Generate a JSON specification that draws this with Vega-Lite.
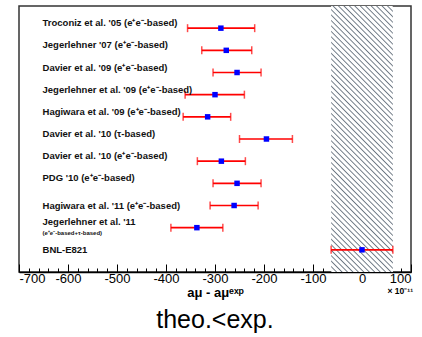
{
  "$schema": "https://vega.github.io/schema/vega-lite/v6.json",
  "width": 392,
  "height": 266,
  "autosize": {"type": "none"},
  "padding": {"left": 19, "top": 6, "right": 11, "bottom": 65},
  "background": "white",
  "config": {"view": {"stroke": "#333333", "strokeWidth": 1.5}},
  "title": {"text": "theo.<exp.", "orient": "bottom", "fontSize": 25, "fontWeight": "normal", "font": "Liberation Sans", "color": "black", "offset": 9, "anchor": "middle"},
  "data": {"values": [
    {"name": "Troconiz et al. '05 (e⁺e⁻-based)", "row": 1, "val": -288, "lo": -356, "hi": -219},
    {"name": "Jegerlehner  '07 (e⁺e⁻-based)", "row": 2, "val": -277, "lo": -327, "hi": -225},
    {"name": "Davier et al. '09 (e⁺e⁻-based)", "row": 3, "val": -255, "lo": -304, "hi": -206},
    {"name": "Jegerlehner et al. '09 (e⁺e⁻-based)", "row": 4, "val": -300, "lo": -361, "hi": -240},
    {"name": "Hagiwara et al. '09 (e⁺e⁻-based)", "row": 5, "val": -315, "lo": -365, "hi": -268},
    {"name": "Davier et al. '10 (τ-based)", "row": 6, "val": -195, "lo": -250, "hi": -142},
    {"name": "Davier et al. '10 (e⁺e⁻-based)", "row": 7, "val": -287, "lo": -336, "hi": -238},
    {"name": "PDG '10 (e⁺e⁻-based)", "row": 8, "val": -255, "lo": -304, "hi": -206},
    {"name": "Hagiwara et al. '11 (e⁺e⁻-based)", "row": 9, "val": -261, "lo": -310, "hi": -212},
    {"name": "Jegerlehner et al. '11", "sub": "(e⁺e⁻-based+τ-based)", "row": 10, "val": -337, "lo": -390, "hi": -284},
    {"name": "BNL-E821", "row": 11, "val": 0, "lo": -63, "hi": 63}
  ]},
  "encoding": {
    "x": {"type": "quantitative", "scale": {"domain": [-700, 100], "nice": false, "zero": false},
      "axis": {
        "values": [-700,-680,-660,-640,-620,-600,-580,-560,-540,-520,-500,-480,-460,-440,-420,-400,-380,-360,-340,-320,-300,-280,-260,-240,-220,-200,-180,-160,-140,-120,-100,-80,-60,-40,-20,0,20,40,60,80,100],
        "labelExpr": "datum.value % 100 === 0 ? '' + datum.value : ''",
        "labelOverlap": false, "labelFont": "Liberation Sans", "labelFontSize": 13, "labelColor": "black",
        "tickColor": "black", "tickWidth": 1,
        "tickSize": {"condition": {"test": "datum.value % 100 === 0", "value": -8}, "value": -4},
        "labelPadding": 8, "domainColor": "black", "domainWidth": 1.5, "grid": false,
        "title": "aμ - aμᵉˣᵖ", "titleFont": "Liberation Sans", "titleFontSize": 13, "titleFontWeight": "bold", "titleColor": "black", "titlePadding": -3
      }
    }
  },
  "layer": [
    {
      "transform": [{"filter": "datum.row === 11"}],
      "mark": {"type": "rect", "fill": {"gradient": "linear", "x1": 0, "y1": 1, "x2": 0.2727, "y2": -0.17, "stops": [
        {"offset": 0, "color": "#6b7682"}, {"offset": 0.004, "color": "#fff"}, {"offset": 0.01267, "color": "#fff"}, {"offset": 0.01667, "color": "#6b7682"}, {"offset": 0.02067, "color": "#fff"}, {"offset": 0.02933, "color": "#fff"}, {"offset": 0.03333, "color": "#6b7682"}, {"offset": 0.03733, "color": "#fff"}, {"offset": 0.046, "color": "#fff"}, {"offset": 0.05, "color": "#6b7682"}, {"offset": 0.054, "color": "#fff"}, {"offset": 0.06267, "color": "#fff"}, {"offset": 0.06667, "color": "#6b7682"}, {"offset": 0.07067, "color": "#fff"}, {"offset": 0.07933, "color": "#fff"}, {"offset": 0.08333, "color": "#6b7682"}, {"offset": 0.08733, "color": "#fff"}, {"offset": 0.096, "color": "#fff"},
        {"offset": 0.1, "color": "#6b7682"}, {"offset": 0.104, "color": "#fff"}, {"offset": 0.11267, "color": "#fff"}, {"offset": 0.11667, "color": "#6b7682"}, {"offset": 0.12067, "color": "#fff"}, {"offset": 0.12933, "color": "#fff"}, {"offset": 0.13333, "color": "#6b7682"}, {"offset": 0.13733, "color": "#fff"}, {"offset": 0.146, "color": "#fff"}, {"offset": 0.15, "color": "#6b7682"}, {"offset": 0.154, "color": "#fff"}, {"offset": 0.16267, "color": "#fff"}, {"offset": 0.16667, "color": "#6b7682"}, {"offset": 0.17067, "color": "#fff"}, {"offset": 0.17933, "color": "#fff"}, {"offset": 0.18333, "color": "#6b7682"}, {"offset": 0.18733, "color": "#fff"}, {"offset": 0.196, "color": "#fff"},
        {"offset": 0.2, "color": "#6b7682"}, {"offset": 0.204, "color": "#fff"}, {"offset": 0.21267, "color": "#fff"}, {"offset": 0.21667, "color": "#6b7682"}, {"offset": 0.22067, "color": "#fff"}, {"offset": 0.22933, "color": "#fff"}, {"offset": 0.23333, "color": "#6b7682"}, {"offset": 0.23733, "color": "#fff"}, {"offset": 0.246, "color": "#fff"}, {"offset": 0.25, "color": "#6b7682"}, {"offset": 0.254, "color": "#fff"}, {"offset": 0.26267, "color": "#fff"}, {"offset": 0.26667, "color": "#6b7682"}, {"offset": 0.27067, "color": "#fff"}, {"offset": 0.27933, "color": "#fff"}, {"offset": 0.28333, "color": "#6b7682"}, {"offset": 0.28733, "color": "#fff"}, {"offset": 0.296, "color": "#fff"},
        {"offset": 0.3, "color": "#6b7682"}, {"offset": 0.304, "color": "#fff"}, {"offset": 0.31267, "color": "#fff"}, {"offset": 0.31667, "color": "#6b7682"}, {"offset": 0.32067, "color": "#fff"}, {"offset": 0.32933, "color": "#fff"}, {"offset": 0.33333, "color": "#6b7682"}, {"offset": 0.33733, "color": "#fff"}, {"offset": 0.346, "color": "#fff"}, {"offset": 0.35, "color": "#6b7682"}, {"offset": 0.354, "color": "#fff"}, {"offset": 0.36267, "color": "#fff"}, {"offset": 0.36667, "color": "#6b7682"}, {"offset": 0.37067, "color": "#fff"}, {"offset": 0.37933, "color": "#fff"}, {"offset": 0.38333, "color": "#6b7682"}, {"offset": 0.38733, "color": "#fff"}, {"offset": 0.396, "color": "#fff"},
        {"offset": 0.4, "color": "#6b7682"}, {"offset": 0.404, "color": "#fff"}, {"offset": 0.41267, "color": "#fff"}, {"offset": 0.41667, "color": "#6b7682"}, {"offset": 0.42067, "color": "#fff"}, {"offset": 0.42933, "color": "#fff"}, {"offset": 0.43333, "color": "#6b7682"}, {"offset": 0.43733, "color": "#fff"}, {"offset": 0.446, "color": "#fff"}, {"offset": 0.45, "color": "#6b7682"}, {"offset": 0.454, "color": "#fff"}, {"offset": 0.46267, "color": "#fff"}, {"offset": 0.46667, "color": "#6b7682"}, {"offset": 0.47067, "color": "#fff"}, {"offset": 0.47933, "color": "#fff"}, {"offset": 0.48333, "color": "#6b7682"}, {"offset": 0.48733, "color": "#fff"}, {"offset": 0.496, "color": "#fff"},
        {"offset": 0.5, "color": "#6b7682"}, {"offset": 0.504, "color": "#fff"}, {"offset": 0.51267, "color": "#fff"}, {"offset": 0.51667, "color": "#6b7682"}, {"offset": 0.52067, "color": "#fff"}, {"offset": 0.52933, "color": "#fff"}, {"offset": 0.53333, "color": "#6b7682"}, {"offset": 0.53733, "color": "#fff"}, {"offset": 0.546, "color": "#fff"}, {"offset": 0.55, "color": "#6b7682"}, {"offset": 0.554, "color": "#fff"}, {"offset": 0.56267, "color": "#fff"}, {"offset": 0.56667, "color": "#6b7682"}, {"offset": 0.57067, "color": "#fff"}, {"offset": 0.57933, "color": "#fff"}, {"offset": 0.58333, "color": "#6b7682"}, {"offset": 0.58733, "color": "#fff"}, {"offset": 0.596, "color": "#fff"},
        {"offset": 0.6, "color": "#6b7682"}, {"offset": 0.604, "color": "#fff"}, {"offset": 0.61267, "color": "#fff"}, {"offset": 0.61667, "color": "#6b7682"}, {"offset": 0.62067, "color": "#fff"}, {"offset": 0.62933, "color": "#fff"}, {"offset": 0.63333, "color": "#6b7682"}, {"offset": 0.63733, "color": "#fff"}, {"offset": 0.646, "color": "#fff"}, {"offset": 0.65, "color": "#6b7682"}, {"offset": 0.654, "color": "#fff"}, {"offset": 0.66267, "color": "#fff"}, {"offset": 0.66667, "color": "#6b7682"}, {"offset": 0.67067, "color": "#fff"}, {"offset": 0.67933, "color": "#fff"}, {"offset": 0.68333, "color": "#6b7682"}, {"offset": 0.68733, "color": "#fff"}, {"offset": 0.696, "color": "#fff"},
        {"offset": 0.7, "color": "#6b7682"}, {"offset": 0.704, "color": "#fff"}, {"offset": 0.71267, "color": "#fff"}, {"offset": 0.71667, "color": "#6b7682"}, {"offset": 0.72067, "color": "#fff"}, {"offset": 0.72933, "color": "#fff"}, {"offset": 0.73333, "color": "#6b7682"}, {"offset": 0.73733, "color": "#fff"}, {"offset": 0.746, "color": "#fff"}, {"offset": 0.75, "color": "#6b7682"}, {"offset": 0.754, "color": "#fff"}, {"offset": 0.76267, "color": "#fff"}, {"offset": 0.76667, "color": "#6b7682"}, {"offset": 0.77067, "color": "#fff"}, {"offset": 0.77933, "color": "#fff"}, {"offset": 0.78333, "color": "#6b7682"}, {"offset": 0.78733, "color": "#fff"}, {"offset": 0.796, "color": "#fff"},
        {"offset": 0.8, "color": "#6b7682"}, {"offset": 0.804, "color": "#fff"}, {"offset": 0.81267, "color": "#fff"}, {"offset": 0.81667, "color": "#6b7682"}, {"offset": 0.82067, "color": "#fff"}, {"offset": 0.82933, "color": "#fff"}, {"offset": 0.83333, "color": "#6b7682"}, {"offset": 0.83733, "color": "#fff"}, {"offset": 0.846, "color": "#fff"}, {"offset": 0.85, "color": "#6b7682"}, {"offset": 0.854, "color": "#fff"}, {"offset": 0.86267, "color": "#fff"}, {"offset": 0.86667, "color": "#6b7682"}, {"offset": 0.87067, "color": "#fff"}, {"offset": 0.87933, "color": "#fff"}, {"offset": 0.88333, "color": "#6b7682"}, {"offset": 0.88733, "color": "#fff"}, {"offset": 0.896, "color": "#fff"},
        {"offset": 0.9, "color": "#6b7682"}, {"offset": 0.904, "color": "#fff"}, {"offset": 0.91267, "color": "#fff"}, {"offset": 0.91667, "color": "#6b7682"}, {"offset": 0.92067, "color": "#fff"}, {"offset": 0.92933, "color": "#fff"}, {"offset": 0.93333, "color": "#6b7682"}, {"offset": 0.93733, "color": "#fff"}, {"offset": 0.946, "color": "#fff"}, {"offset": 0.95, "color": "#6b7682"}, {"offset": 0.954, "color": "#fff"}, {"offset": 0.96267, "color": "#fff"}, {"offset": 0.96667, "color": "#6b7682"}, {"offset": 0.97067, "color": "#fff"}, {"offset": 0.97933, "color": "#fff"}, {"offset": 0.98333, "color": "#6b7682"}, {"offset": 0.98733, "color": "#fff"}, {"offset": 0.996, "color": "#fff"},
        {"offset": 1, "color": "#6b7682"}
      ]}},
      "encoding": {
        "x": {"field": "lo", "type": "quantitative"},
        "x2": {"field": "hi"},
        "y": {"datum": 0, "type": "quantitative", "scale": {"domain": [0, 12], "reverse": true, "nice": false}, "axis": null},
        "y2": {"datum": 12}
      }
    },
    {
      "mark": {"type": "rule", "color": "#ff0000", "strokeWidth": 1.6},
      "encoding": {
        "x": {"field": "lo", "type": "quantitative"},
        "x2": {"field": "hi"},
        "y": {"field": "row", "type": "quantitative", "scale": {"domain": [0, 12], "reverse": true, "nice": false}, "axis": null}
      }
    },
    {
      "mark": {"type": "tick", "orient": "vertical", "color": "#ff0000", "size": 8, "thickness": 1.5},
      "encoding": {
        "x": {"field": "lo", "type": "quantitative"},
        "y": {"field": "row", "type": "quantitative"}
      }
    },
    {
      "mark": {"type": "tick", "orient": "vertical", "color": "#ff0000", "size": 8, "thickness": 1.5},
      "encoding": {
        "x": {"field": "hi", "type": "quantitative"},
        "y": {"field": "row", "type": "quantitative"}
      }
    },
    {
      "mark": {"type": "point", "shape": "square", "filled": true, "color": "#0000ff", "size": 30, "opacity": 1},
      "encoding": {
        "x": {"field": "val", "type": "quantitative"},
        "y": {"field": "row", "type": "quantitative"}
      }
    },
    {
      "transform": [{"filter": "datum.row <= 8"}],
      "mark": {"type": "text", "align": "left", "baseline": "middle", "font": "Liberation Sans", "fontSize": 9.5, "fontWeight": "bold", "color": "#111", "dy": -5},
      "encoding": {
        "x": {"datum": -652, "type": "quantitative"},
        "y": {"field": "row", "type": "quantitative"},
        "text": {"field": "name"}
      }
    },
    {
      "transform": [{"filter": "datum.row === 9 || datum.row === 11"}],
      "mark": {"type": "text", "align": "left", "baseline": "middle", "font": "Liberation Sans", "fontSize": 9.5, "fontWeight": "bold", "color": "#111", "dy": 0},
      "encoding": {
        "x": {"datum": -652, "type": "quantitative"},
        "y": {"field": "row", "type": "quantitative"},
        "text": {"field": "name"}
      }
    },
    {
      "transform": [{"filter": "datum.row === 10"}],
      "mark": {"type": "text", "align": "left", "baseline": "middle", "font": "Liberation Sans", "fontSize": 9.5, "fontWeight": "bold", "color": "#111", "dy": -6},
      "encoding": {
        "x": {"datum": -652, "type": "quantitative"},
        "y": {"field": "row", "type": "quantitative"},
        "text": {"field": "name"}
      }
    },
    {
      "transform": [{"filter": "datum.row === 10"}],
      "mark": {"type": "text", "align": "left", "baseline": "middle", "font": "Liberation Sans", "fontSize": 6, "fontWeight": "bold", "color": "#111", "dy": 5},
      "encoding": {
        "x": {"datum": -652, "type": "quantitative"},
        "y": {"field": "row", "type": "quantitative"},
        "text": {"field": "sub"}
      }
    },
    {
      "data": {"values": [{"unit": "× 10⁻¹¹"}]},
      "mark": {"type": "text", "align": "right", "baseline": "middle", "font": "Liberation Sans", "fontSize": 8.5, "fontWeight": "bold", "color": "black", "dy": 19, "dx": 2},
      "encoding": {
        "x": {"datum": 100, "type": "quantitative"},
        "y": {"datum": 12, "type": "quantitative"},
        "text": {"field": "unit"}
      }
    }
  ]
}
